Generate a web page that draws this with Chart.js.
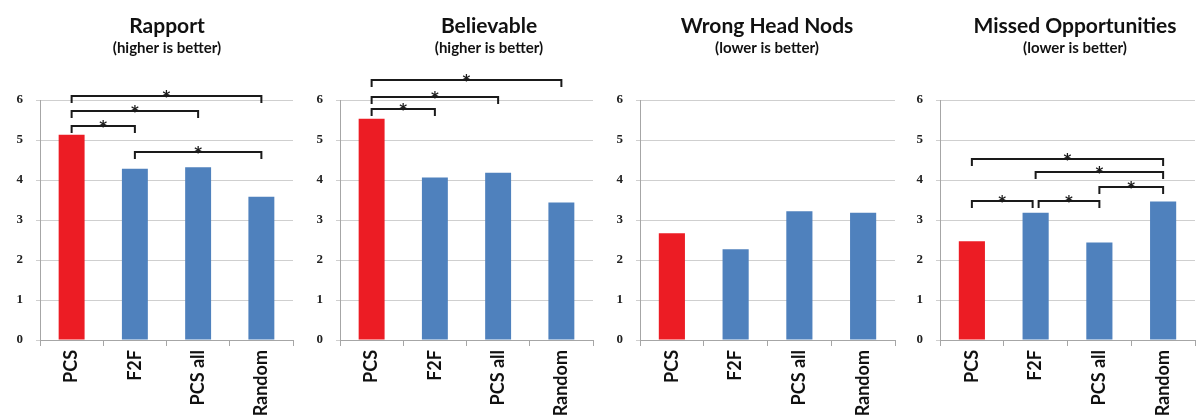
<!DOCTYPE html>
<html>
<head>
<meta charset="utf-8">
<script src="https://cdn.jsdelivr.net/npm/chart.js@4.4.0/dist/chart.umd.min.js"></script>
<style>
  body { margin: 0; background: #fff; }
  #wrap { position: relative; width: 1196px; height: 419px; }
  #wrap canvas { position: absolute; top: 0; }
</style>
</head>
<body>
<div id="wrap">
  <canvas id="c1" width="300" height="419" style="left:0px"></canvas>
  <canvas id="c2" width="300" height="419" style="left:300px"></canvas>
  <canvas id="c3" width="300" height="419" style="left:600px"></canvas>
  <canvas id="c4" width="296" height="419" style="left:900px"></canvas>
</div>
<script>
// data
var categories = ['PCS', 'F2F', 'PCS all', 'Random'];
var rapport = [5.13, 4.28, 4.32, 3.58];
var believable = [5.53, 4.06, 4.18, 3.44];
var wrongHeadNods = [2.67, 2.27, 3.22, 3.18];
var missedOpps = [2.47, 3.18, 2.44, 3.46];
var yTicks = [0, 1, 2, 3, 4, 5, 6];

// significance brackets: [from category, to category, height]
var rapportSig = [[0, 3, 6.11], [0, 2, 5.72], [0, 1, 5.35], [1, 3, 4.7]];
var believableSig = [[0, 3, 6.5], [0, 2, 6.08], [0, 1, 5.78]];
var headNodsSig = [];
var missedSig = [[0, 3, 4.52], [1, 3, 4.19], [2, 3, 3.82], [0, 1, 3.48], [1, 2, 3.48]];

var red = '#ec1c24';
var blue = '#4f81bd';

var panelPlugin = {
  id: 'panel',
  afterDraw: function(chart) {
    var o = chart.options.plugins.panel;
    var ctx = chart.ctx;
    var xs = chart.scales.x, ys = chart.scales.y;
    ctx.save();
    // brackets
    ctx.strokeStyle = '#1a1a1a';
    ctx.lineWidth = 2;
    ctx.fillStyle = '#1a1a1a';
    o.sig.forEach(function(s) {
      var x1 = xs.getPixelForValue(s[0]) + (s[0] === 1 && s[1] === 2 ? 3 : 0);
      var x2 = xs.getPixelForValue(s[1]) - (s[0] === 0 && s[1] === 1 && o.sig.length > 4 ? 3 : 0);
      var y = Math.round(ys.getPixelForValue(s[2]));
      ctx.beginPath();
      ctx.moveTo(x1, y + 7);
      ctx.lineTo(x1, y);
      ctx.lineTo(x2, y);
      ctx.lineTo(x2, y + 7);
      ctx.stroke();
      ctx.font = 'bold 15px "DejaVu Sans"';
      ctx.textAlign = 'center';
      ctx.textBaseline = 'alphabetic';
      ctx.fillText('*', (x1 + x2) / 2, y + 6);
    });
    // titles
    ctx.fillStyle = '#111';
    ctx.textAlign = 'center';
    ctx.font = 'bold 21px Lato';
    ctx.fillText(o.title, o.cx, 33);
    ctx.font = 'bold 15px Lato';
    ctx.fillText(o.sub, o.cx, 53);
    ctx.restore();
  }
};

function makeChart(id, values, sig, title, sub, cx, padRight) {
  new Chart(document.getElementById(id), {
    type: 'bar',
    data: {
      labels: categories,
      datasets: [{
        data: values,
        backgroundColor: [red, blue, blue, blue],
        borderWidth: 0,
        categoryPercentage: 1,
        barPercentage: 0.41
      }]
    },
    options: {
      responsive: false,
      animation: false,
      layout: { padding: { top: 100, right: padRight, left: 0, bottom: 0 } },
      plugins: {
        legend: { display: false },
        tooltip: { enabled: false },
        panel: { sig: sig, title: title, sub: sub, cx: cx }
      },
      scales: {
        x: {
          afterFit: function(s) { s.height = 79; },
          grid: { drawOnChartArea: false, color: '#a6a6a6', tickLength: 6 },
          border: { color: '#a6a6a6' },
          ticks: {
            minRotation: 90, maxRotation: 90, padding: 4,
            color: '#111',
            font: { family: 'Lato', weight: 'bold', size: 18 }
          }
        },
        y: {
          min: 0, max: 6,
          afterFit: function(s) { s.width = 40; },
          afterBuildTicks: function(s) { s.ticks = yTicks.map(function(v) { return { value: v }; }); },
          grid: { color: '#cfcfcf', tickLength: 4 },
          border: { color: '#a6a6a6' },
          ticks: {
            padding: 13, color: '#222',
            font: { family: 'Liberation Serif', weight: 'bold', size: 13 }
          }
        }
      }
    },
    plugins: [panelPlugin]
  });
}

makeChart('c1', rapport, rapportSig, 'Rapport', '(higher is better)', 167, 7);
makeChart('c2', believable, believableSig, 'Believable', '(higher is better)', 189, 7);
makeChart('c3', wrongHeadNods, headNodsSig, 'Wrong Head Nods', '(lower is better)', 167, 5);
makeChart('c4', missedOpps, missedSig, 'Missed Opportunities', '(lower is better)', 175, 1);
</script>
</body>
</html>
